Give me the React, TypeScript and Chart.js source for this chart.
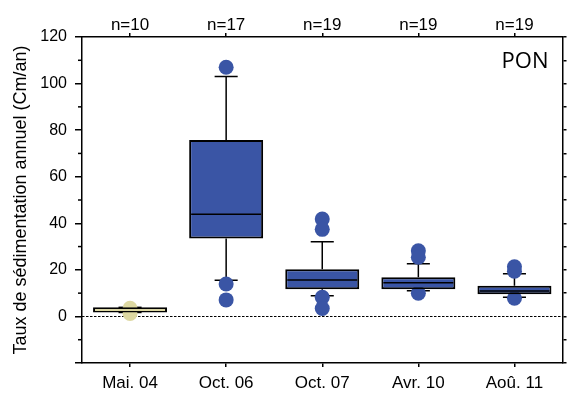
import React, { useEffect, useRef } from 'react';
import { Chart, registerables } from 'chart.js';

Chart.register(...registerables);

const categories = ['Mai. 04', 'Oct. 06', 'Oct. 07', 'Avr. 10', 'Aoû. 11'];
const sampleSizes = ['n=10', 'n=17', 'n=19', 'n=19', 'n=19'];
const q1 = [1.7, 33.5, 11.7, 11.7, 9.5];
const medians = [2.7, 43.9, 15.6, 14.5, 10.9];
const q3 = [3.9, 75.8, 20.3, 16.8, 13.2];
const whiskerLow = [1.7, 15.5, 8.9, 11.0, 8.2];
const whiskerHigh = [3.9, 103, 32.1, 22.6, 18.3];
const outliers = [
  [3.5, 1.3],
  [107, 13.9, 7.1],
  [41.8, 37.4, 8.2, 3.4],
  [28.2, 25.4, 10.0],
  [21.3, 19.4, 7.8],
];
const yMin = -20;
const yMax = 120;

const KHAKI = '#ddd8a2';
const BLUE = '#3a55a5';
const fillColors = [KHAKI, BLUE, BLUE, BLUE, BLUE];
const medianColors = [KHAKI, '#000', '#000', '#000', '#000'];
const FONT = "'Liberation Sans', Arial, sans-serif";

const boxPlugin = {
  id: 'boxExtras',
  beforeDatasetsDraw(chart: any) {
    const { ctx, chartArea, scales } = chart;
    const x = scales.x;
    const y = scales.y;
    ctx.save();
    ctx.strokeStyle = '#000';
    ctx.lineWidth = 1;
    ctx.setLineDash([2.5, 1.5]);
    const y0 = Math.round(y.getPixelForValue(0)) + 0.5;
    ctx.beginPath();
    ctx.moveTo(chartArea.left, y0);
    ctx.lineTo(chartArea.right, y0);
    ctx.stroke();
    ctx.setLineDash([]);
    ctx.lineWidth = 1.5;
    for (let v = -10; v < yMax; v += 20) {
      const py = y.getPixelForValue(v);
      ctx.beginPath();
      ctx.moveTo(chartArea.left - 4, py);
      ctx.lineTo(chartArea.left, py);
      ctx.stroke();
    }
    const catW = x.getPixelForValue(1) - x.getPixelForValue(0);
    const capHalf = catW * 0.12;
    ctx.lineWidth = 1.5;
    ctx.strokeStyle = '#000';
    categories.forEach((_, i) => {
      const px = x.getPixelForValue(i);
      const segs = [
        [q3[i], whiskerHigh[i]],
        [q1[i], whiskerLow[i]],
      ];
      segs.forEach(([a, b]) => {
        const pa = y.getPixelForValue(a);
        const pb = y.getPixelForValue(b);
        ctx.beginPath();
        ctx.moveTo(px, pa);
        ctx.lineTo(px, pb);
        ctx.moveTo(px - capHalf, pb);
        ctx.lineTo(px + capHalf, pb);
        ctx.stroke();
      });
    });
    ctx.restore();
  },
  afterDatasetsDraw(chart: any) {
    const { ctx, scales } = chart;
    const x = scales.x;
    const y = scales.y;
    const catW = x.getPixelForValue(1) - x.getPixelForValue(0);
    const half = (catW * 0.77) / 2;
    ctx.save();
    ctx.lineWidth = 1.5;
    categories.forEach((_, i) => {
      const px = x.getPixelForValue(i);
      const py = y.getPixelForValue(medians[i]);
      ctx.strokeStyle = medianColors[i];
      ctx.beginPath();
      ctx.moveTo(px - half + 2, py);
      ctx.lineTo(px + half - 2, py);
      ctx.stroke();
    });
    ctx.restore();
  },
  afterDraw(chart: any) {
    const { ctx, chartArea } = chart;
    ctx.save();
    ctx.fillStyle = '#000';
    ctx.font = `22px 'Open Sans', ${FONT}`;
    ctx.textAlign = 'right';
    ctx.textBaseline = 'alphabetic';
    ctx.fillText('PON', chartArea.right - 14, chartArea.top + 31);
    ctx.restore();
  },
};

export default function App() {
  const ref = useRef<HTMLCanvasElement>(null);

  useEffect(() => {
    if (!ref.current) return;
    const pointData: any[] = [];
    const pointColors: string[] = [];
    outliers.forEach((vals, i) => {
      vals.forEach((v) => {
        pointData.push({ x: categories[i], y: v });
        pointColors.push(fillColors[i]);
      });
    });

    const axisGrid = (len: number) => ({
      display: true,
      drawOnChartArea: false,
      drawTicks: true,
      tickLength: len,
      color: '#000',
      lineWidth: 1.5,
      offset: false,
    });
    const border = { display: true, color: '#000', width: 1.5 };

    const chart = new Chart(ref.current, {
      type: 'bar',
      data: {
        labels: categories,
        datasets: [
          {
            type: 'bar',
            data: categories.map((_, i) => [q1[i], q3[i]]) as any,
            backgroundColor: fillColors,
            borderColor: '#000',
            borderWidth: 2,
            borderSkipped: false,
            barPercentage: 0.77,
            categoryPercentage: 1,
            order: 0,
            xAxisID: 'x',
            yAxisID: 'y',
          } as any,
          {
            type: 'line',
            data: pointData,
            showLine: false,
            pointRadius: 7.5,
            pointHoverRadius: 7.5,
            pointBackgroundColor: pointColors,
            pointBorderWidth: 0,
            pointBorderColor: 'rgba(0,0,0,0)',
            order: 1,
            xAxisID: 'x',
            yAxisID: 'y',
          } as any,
        ],
      },
      options: {
        animation: false,
        responsive: false,
        layout: { padding: 0 },
        plugins: { legend: { display: false }, tooltip: { enabled: false } },
        scales: {
          x: {
            type: 'category',
            position: 'bottom',
            offset: true,
            grid: axisGrid(4),
            border,
            ticks: { color: '#000', font: { family: FONT, size: 17 }, padding: 6 },
            afterFit: (s: any) => { s.height = 31; },
          },
          xTop: {
            type: 'category',
            axis: 'x',
            position: 'top',
            labels: sampleSizes,
            offset: true,
            grid: axisGrid(4),
            border,
            ticks: { color: '#000', font: { family: FONT, size: 17 }, padding: -3 },
            afterFit: (s: any) => { s.height = 37; },
          },
          y: {
            type: 'linear',
            position: 'left',
            min: yMin,
            max: yMax,
            grid: axisGrid(7),
            border,
            ticks: {
              stepSize: 20,
              color: '#000',
              font: { family: FONT, size: 16 },
              padding: 8,
              callback: (v: any) => (v === -20 ? '' : v),
            },
            title: {
              display: true,
              text: 'Taux de sédimentation annuel (Cm/an)',
              color: '#000',
              font: { family: FONT, size: 18 },
              padding: { top: 10, bottom: 0 },
            },
            afterFit: (s: any) => { s.width = 82; },
          },
          y2: {
            type: 'linear',
            position: 'right',
            min: yMin,
            max: yMax,
            grid: axisGrid(4),
            border,
            ticks: { display: false, stepSize: 10 },
            afterFit: (s: any) => { s.width = 4; },
          },
        },
      } as any,
      plugins: [boxPlugin],
    });
    return () => chart.destroy();
  }, []);

  return (
    <div style={{ position: 'absolute', left: 0, top: 0, width: 570, height: 394, background: '#fff' }}>
      <canvas ref={ref} width={570} height={394} style={{ display: 'block' }} />
    </div>
  );
}
